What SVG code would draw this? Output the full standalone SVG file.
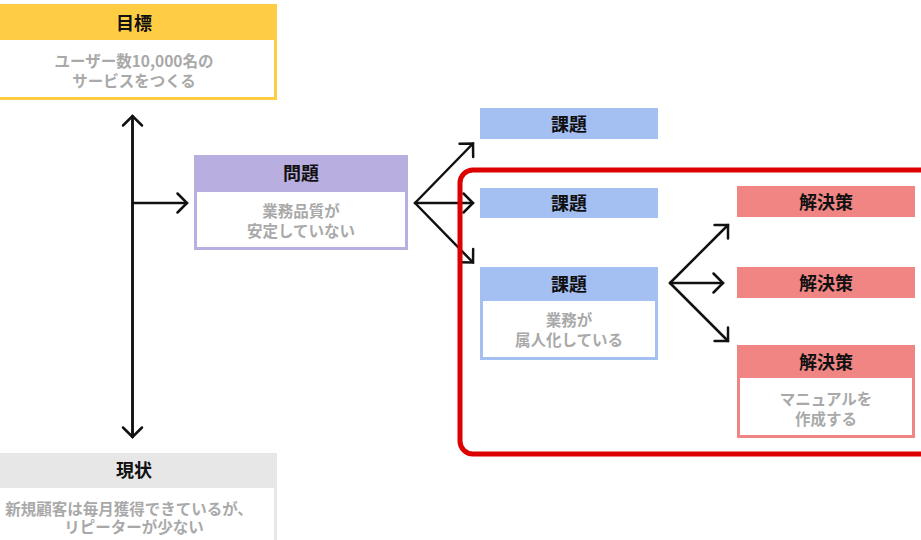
<svg xmlns="http://www.w3.org/2000/svg" width="921" height="540" viewBox="0 0 921 540">
<style>
.h{font-family:"Noto Sans CJK JP","Noto Sans",sans-serif;font-size:18px;font-weight:700;fill:#111;text-anchor:middle}
.b{font-family:"Noto Sans CJK JP","Noto Sans",sans-serif;font-size:15.5px;font-weight:700;fill:#a9a9a9;text-anchor:middle}
.w{fill:#fff}
.yel{fill:#ffcd44}
.pur{fill:#b9aee0}
.blu{fill:#a4bff2}
.pnk{fill:#f08583}
.gry{fill:#e7e7e7}
.arr{stroke:#111;stroke-width:2.5;fill:none;stroke-linecap:round;stroke-linejoin:round}
</style>
<defs>
<marker id="ah" markerUnits="userSpaceOnUse" markerWidth="30" markerHeight="30" refX="0" refY="0" viewBox="-15 -15 30 30" orient="auto" overflow="visible">
<path d="M-9.5,-9.5 L0,0 L-9.5,9.5" fill="none" stroke="#111" stroke-width="2.5" stroke-linecap="round" stroke-linejoin="miter"/>
</marker>
</defs>
<rect width="921" height="540" fill="#fff"/>

<g id="goal">
<rect class="yel" x="-9" y="4" width="286" height="96"/>
<rect class="w" x="-6" y="40" width="280" height="57"/>
<text class="h" x="134" y="30">目標</text>
<text class="b" x="134" y="67">ユーザー数10,000名の</text>
<text class="b" x="134" y="86.5">サービスをつくる</text>
</g>

<g id="problem">
<rect class="pur" x="194" y="155" width="214" height="95"/>
<rect class="w" x="197" y="192" width="208" height="55"/>
<text class="h" x="301" y="179.5">問題</text>
<text class="b" x="301" y="217">業務品質が</text>
<text class="b" x="301" y="237">安定していない</text>
</g>

<g id="issue1">
<rect class="blu" x="480" y="108" width="178" height="31"/>
<text class="h" x="569" y="130.5">課題</text>
</g>
<g id="issue2">
<rect class="blu" x="480" y="188" width="178" height="30"/>
<text class="h" x="569" y="210">課題</text>
</g>
<g id="issue3">
<rect class="blu" x="480" y="267" width="178" height="93"/>
<rect class="w" x="483" y="301" width="172" height="56"/>
<text class="h" x="569" y="290.5">課題</text>
<text class="b" x="569" y="325.5">業務が</text>
<text class="b" x="569" y="345.5">属人化している</text>
</g>

<g id="solution1">
<rect class="pnk" x="737" y="186" width="178" height="31"/>
<text class="h" x="826" y="208.5">解決策</text>
</g>
<g id="solution2">
<rect class="pnk" x="737" y="267" width="178" height="31"/>
<text class="h" x="826" y="289.5">解決策</text>
</g>
<g id="solution3">
<rect class="pnk" x="737" y="345" width="178" height="93"/>
<rect class="w" x="740" y="378" width="172" height="57"/>
<text class="h" x="826" y="368.5">解決策</text>
<text class="b" x="826" y="405">マニュアルを</text>
<text class="b" x="826" y="425">作成する</text>
</g>

<g id="current">
<rect class="gry" x="-9" y="453" width="286" height="100"/>
<rect class="w" x="-6" y="488" width="280" height="60"/>
<text class="h" x="134" y="477">現状</text>
<text class="b" x="129" y="514.5">新規顧客は毎月獲得できているが、</text>
<text class="b" x="134" y="533">リピーターが少ない</text>
</g>

<g id="connectors" class="arr">
<path d="M132.5,437 L132.5,116" marker-end="url(#ah)"/>
<path d="M132.5,120 L132.5,437" marker-end="url(#ah)"/>
<path d="M132.5,203 L187,203" marker-end="url(#ah)"/>
<path d="M415,203 L473,143.5" marker-end="url(#ah)"/>
<path d="M415,203 L473,203" marker-end="url(#ah)"/>
<path d="M415,203 L473,262.5" marker-end="url(#ah)"/>
<path d="M670,283 L728,225" marker-end="url(#ah)"/>
<path d="M670,283 L723,283" marker-end="url(#ah)"/>
<path d="M670,283 L728,341" marker-end="url(#ah)"/>
</g>

<g id="highlight">
<rect x="460" y="170" width="480" height="284" rx="13" ry="13" fill="none" stroke="#dd0000" stroke-width="5"/>
</g>
</svg>
